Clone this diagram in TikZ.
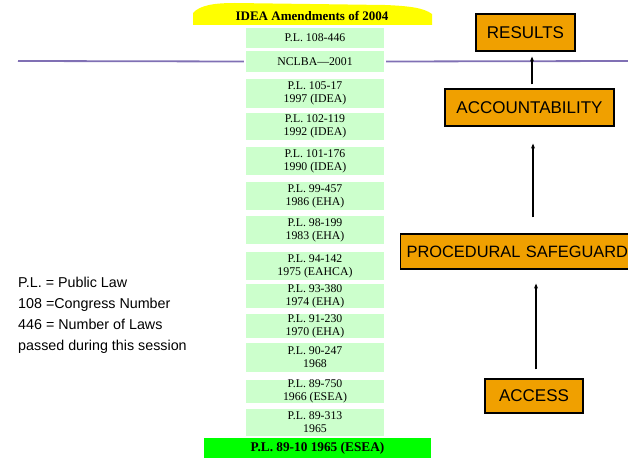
\documentclass[tikz,border=0pt]{standalone}
\usepackage{fontspec}
\setmainfont{Liberation Serif}
\setsansfont{Liberation Sans}
\usetikzlibrary{arrows.meta}
\definecolor{lgreen}{RGB}{204,255,204}
\definecolor{bgreen}{RGB}{0,255,0}
\definecolor{yel}{RGB}{255,255,0}
\definecolor{orng}{RGB}{240,160,0}
\definecolor{purp}{RGB}{128,112,180}
\begin{document}
\begin{tikzpicture}[x=1pt,y=-1pt,
  law/.style={fill=lgreen, minimum width=138pt, inner sep=0pt, align=center,
    font=\fontsize{11.8}{13.2}\selectfont},
  goal/.style={draw=black, fill=orng, line width=1.2pt, inner sep=0pt,
    font=\sffamily\fontsize{17}{20}\selectfont},
  up/.style={draw, line width=1.3pt, -{Stealth[length=5pt,width=4pt]}}
]
\useasboundingbox (0,0) rectangle (628,457);
\clip (0,0) rectangle (628,457);

% banner
\fill[yel] (193,25) -- (193,13) .. controls (200,5) and (215,3) .. (235,3)
  -- (385,5) .. controls (410,6) and (424,8) .. (432,14) -- (432,25) -- cycle;
\node[font=\bfseries\fontsize{13}{15}\selectfont] (title) at (312,15.5) {IDEA Amendments of 2004};

% law boxes
\node[law, minimum height=20pt] (l1) at (315,38) {P.L. 108-446};
\node[law, minimum height=21pt] (l2) at (315,61.5) {NCLBA---2001};
\node[law, minimum height=29pt] (l3) at (315,93.5) {P.L. 105-17\\1997 (IDEA)};
\node[law, minimum height=27pt] (l4) at (315,126.5) {P.L. 102-119\\1992 (IDEA)};
\node[law, minimum height=28pt] (l5) at (315,161) {P.L. 101-176\\1990 (IDEA)};
\node[law, minimum height=28pt] (l6) at (315,196) {P.L. 99-457\\1986 (EHA)};
\node[law, minimum height=28pt] (l7) at (315,230) {P.L. 98-199\\1983 (EHA)};
\node[law, minimum height=28pt] (l8) at (315,266) {P.L. 94-142\\1975 (EAHCA)};
\node[law, minimum height=24pt] (l9) at (315,296) {P.L. 93-380\\1974 (EHA)};
\node[law, minimum height=24pt] (l10) at (315,326) {P.L. 91-230\\1970 (EHA)};
\node[law, minimum height=29pt] (l11) at (315,357.5) {P.L. 90-247\\1968};
\node[law, minimum height=23pt] (l12) at (315,391.5) {P.L. 89-750\\1966 (ESEA)};
\node[law, minimum height=27pt] (l13) at (315,422.5) {P.L. 89-313\\1965};
\node[fill=bgreen, minimum width=227pt, minimum height=22pt, inner sep=0pt,
  font=\bfseries\fontsize{13.3}{15}\selectfont] (base) at (317.5,448.5) {P.L. 89-10 1965 (ESEA)};

% purple line
\coordinate (pl) at (18,61);
\coordinate (pr) at (630,61);
\draw[purp, line width=1.8pt] (pl) -- ([xshift=-2pt]l2.west);
\draw[purp, line width=1.8pt] ([xshift=2pt]l2.east) -- (pr);

% goal boxes
\node[goal, minimum width=99pt, minimum height=37pt] (res) at (525.5,32.5) {RESULTS};
\node[goal, minimum width=169pt, minimum height=37pt] (acc) at (529.5,107.5) {ACCOUNTABILITY};
\node[goal, anchor=west, minimum height=35pt, inner xsep=6pt, text width=238pt, align=left,
  font=\sffamily\fontsize{16.4}{20}\selectfont]
  (proc) at (400,251.5) {PROCEDURAL SAFEGUARD};
\node[goal, minimum width=98pt, minimum height=34pt] (access) at (534,396) {ACCESS};

% arrows
\draw[up, shorten <=9pt, shorten >=14pt] ([xshift=2pt]access.north) -- ([xshift=2pt]access.north |- proc.south);
\draw[up, shorten <=16pt, shorten >=17pt] ([xshift=3.5pt]acc.south |- proc.north) -- ([xshift=3.5pt]acc.south);
\draw[up, shorten <=4pt, shorten >=5pt] ([xshift=2.5pt]acc.north) -- ([xshift=2.5pt]acc.north |- res.south);

% legend
\node[anchor=north west, inner sep=0pt, align=left, font=\sffamily\fontsize{14.3}{21}\selectfont]
  (legend) at (18,277) {P.L. = Public Law\\108 =Congress Number\\446 = Number of Laws\\passed during this session};
\end{tikzpicture}
\end{document}
